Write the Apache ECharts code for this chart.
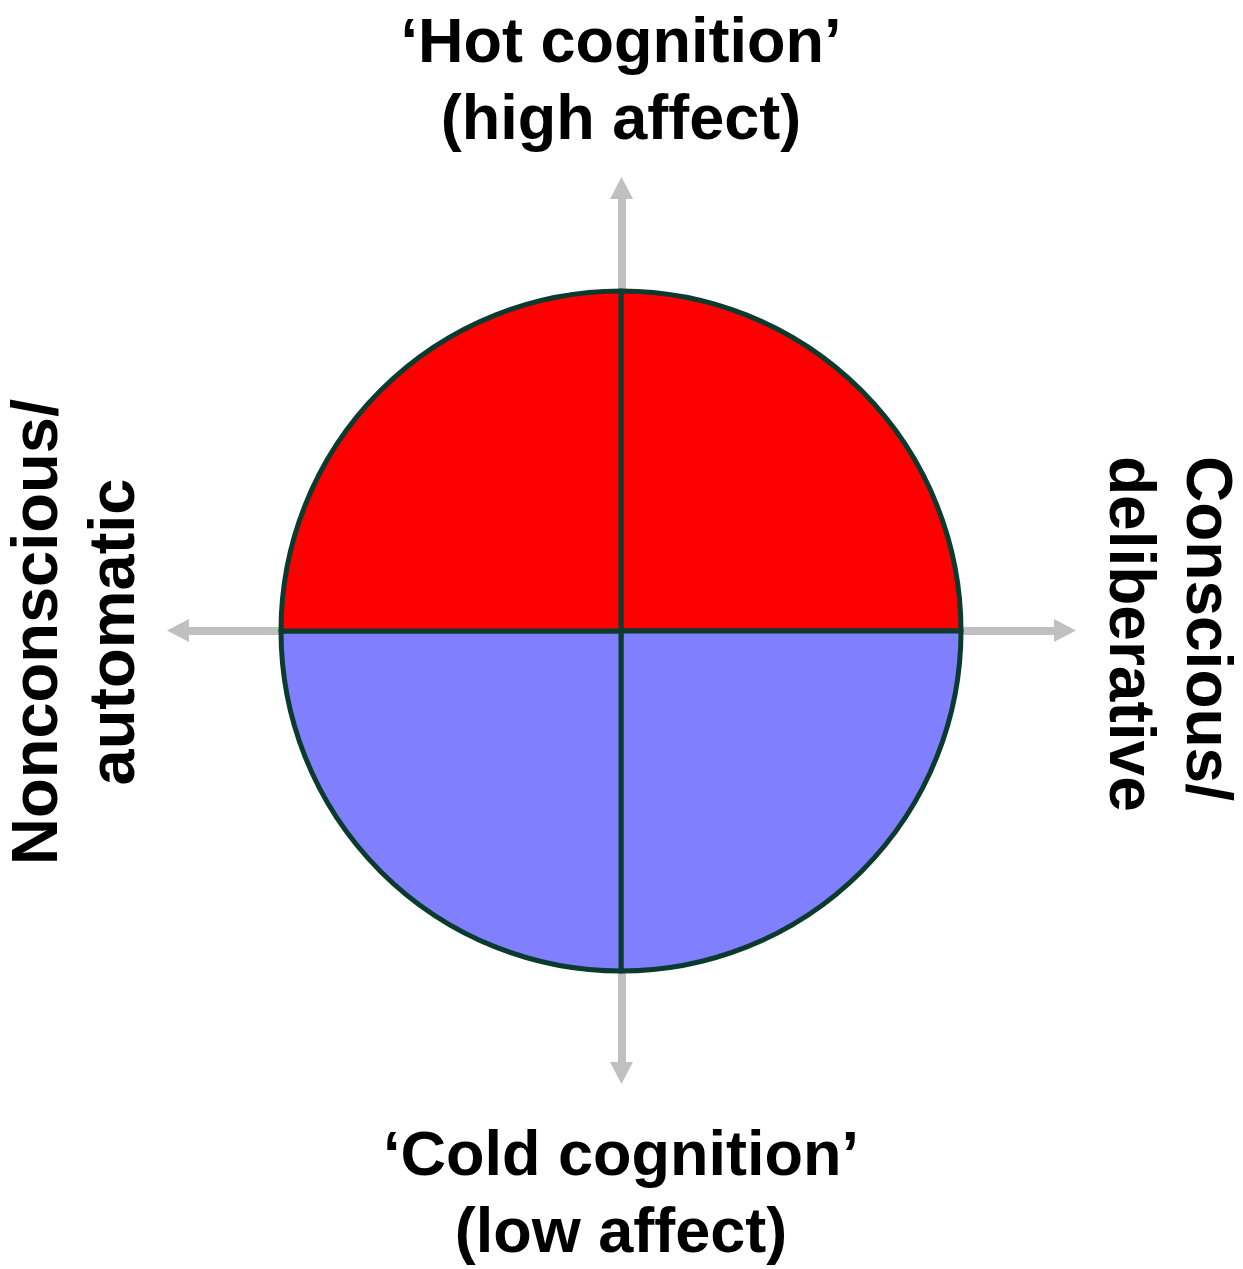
<!DOCTYPE html>
<html>
<head>
<meta charset="UTF-8" />
<title>Hot and cold cognition</title>
<style>
* { margin: 0; padding: 0; }
html, body { background: #fff; }
#main { width: 1243px; height: 1269px; }
</style>
</head>
<body>
<div id="main"></div>
<script src="https://cdn.jsdelivr.net/npm/echarts@6/dist/echarts.min.js"></script>
<script>
// four equal quadrants, clockwise from 12 o'clock
let quadrants = ['hot-deliberative', 'cold-deliberative', 'cold-automatic', 'hot-automatic']
let quadrantValues = [1, 1, 1, 1]
let quadrantColors = ['#ff0000', '#8080ff', '#8080ff', '#ff0000']

let topLabel = '\u2018Hot cognition\u2019\n(high affect)'
let bottomLabel = '\u2018Cold cognition\u2019\n(low affect)'
let leftLabel = 'Nonconscious/\nautomatic'
let rightLabel = 'Conscious/\ndeliberative'

let font = '"Liberation Sans", Arial, sans-serif'
let axisColor = '#c0c0c0'

let chart = echarts.init(document.getElementById('main'))

function arrowAxis() {
  return {
    type: 'value',
    min: -1,
    max: 1,
    axisLine: {
      show: true,
      onZero: true,
      symbol: ['triangle', 'triangle'],
      symbolSize: [23, 22],
      lineStyle: { color: axisColor, width: 8 }
    },
    axisTick: { show: false },
    axisLabel: { show: false },
    splitLine: { show: false }
  }
}

function textStyle(text, align, size) {
  return {
    text: text,
    font: 'bold ' + size + 'px ' + font,
    lineHeight: 77,
    fill: '#000',
    align: align,
    verticalAlign: 'middle'
  }
}

let option = {
  animation: false,
  backgroundColor: '#fff',
  grid: { left: 178, right: 178, top: 188, bottom: 196 },
  xAxis: arrowAxis(),
  yAxis: arrowAxis(),
  series: [
    {
      type: 'pie',
      center: [621, 631],
      radius: 340,
      startAngle: 90,
      clockwise: true,
      z: 5,
      label: { show: false },
      labelLine: { show: false },
      emphasis: { disabled: true },
      itemStyle: { borderColor: '#0b3b2e', borderWidth: 5 },
      data: quadrants.map((name, i) => ({
        name: name,
        value: quadrantValues[i],
        itemStyle: { color: quadrantColors[i] }
      }))
    }
  ],
  graphic: [
    { type: 'text', x: 621, y: 83, style: textStyle(topLabel, 'center', 63) },
    { type: 'text', x: 621, y: 1196, style: textStyle(bottomLabel, 'center', 63) },
    { type: 'text', x: 78, y: 632, rotation: Math.PI / 2, style: textStyle(leftLabel, 'center', 65) },
    { type: 'text', x: 1166, y: 456, rotation: -Math.PI / 2, style: textStyle(rightLabel, 'left', 64) }
  ]
}

chart.setOption(option)
</script>
</body>
</html>
